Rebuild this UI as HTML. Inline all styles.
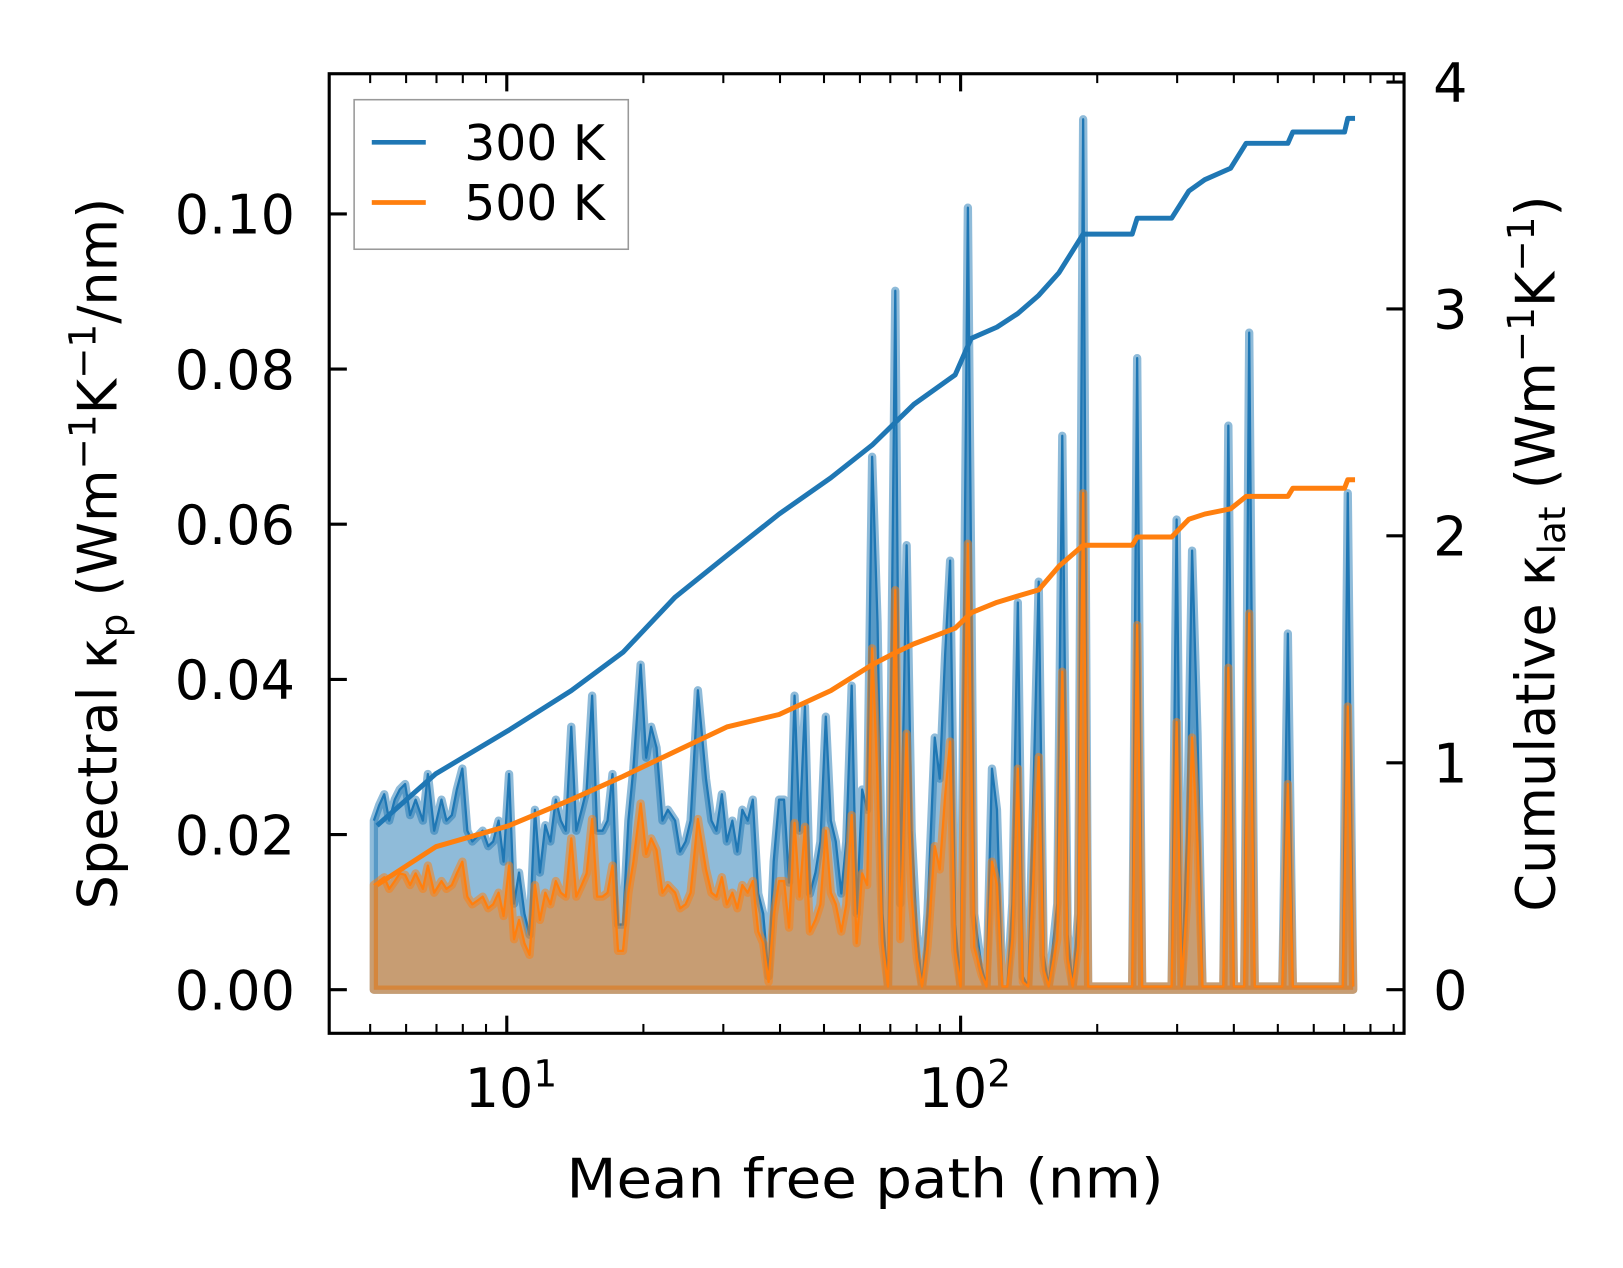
<!DOCTYPE html>
<html><head><meta charset="utf-8"><style>
html,body{margin:0;padding:0;background:#fff;overflow:hidden;width:1623px;height:1268px}
svg{display:block;font-family:"DejaVu Sans","Liberation Sans",sans-serif}
</style></head><body>
<svg id="chart" width="1623" height="1268" viewBox="0 0 1623 1268" xmlns="http://www.w3.org/2000/svg">
<rect width="1623" height="1268" fill="#fff"/>
<g transform="scale(1.0385)">
<g id="marks"></g>
<g id="axes"></g>
<text x="833" y="1153" text-anchor="middle" font-size="52" textLength="575" lengthAdjust="spacingAndGlyphs">Mean free path (nm)</text>
<text transform="translate(112,533) rotate(-90)" text-anchor="middle" font-size="52">Spectral κ<tspan dy="10" font-size="36">p</tspan><tspan dy="-10"> (Wm</tspan><tspan dy="-20" font-size="36">−1</tspan><tspan dy="20">K</tspan><tspan dy="-20" font-size="36">−1</tspan><tspan dy="20">/nm)</tspan></text>
<text transform="translate(1497,533) rotate(-90)" text-anchor="middle" font-size="52">Cumulative κ<tspan dy="10" font-size="36">lat</tspan><tspan dy="-10"> (Wm</tspan><tspan dy="-20" font-size="36">−1</tspan><tspan dy="20">K</tspan><tspan dy="-20" font-size="36">−1</tspan><tspan dy="20">)</tspan></text>
<g>
<rect x="341" y="96" width="264" height="144" fill="#fff" fill-opacity="0.8" stroke="#999" stroke-width="1.5"/>
<line x1="358" x2="410" y1="137" y2="137" stroke="#1f77b4" stroke-width="4.5"/>
<text x="447" y="154" font-size="47">300 K</text>
<line x1="358" x2="410" y1="195" y2="195" stroke="#ff7f0e" stroke-width="4.5"/>
<text x="447" y="212" font-size="47">500 K</text>
</g>
</g>
</svg>
<script>
// log10 of mean free path (nm) for spectral series
const mfpLog10 = [0.707,0.719,0.730,0.741,0.753,0.764,0.776,0.787,0.799,0.815,0.826,0.840,0.856,0.867,0.879,0.890,0.902,0.913,0.924,0.936,0.947,0.959,0.970,0.982,0.993,1.005,1.016,1.027,1.039,1.050,1.062,1.073,1.085,1.096,1.108,1.119,1.130,1.142,1.153,1.165,1.176,1.188,1.199,1.211,1.222,1.233,1.245,1.256,1.268,1.279,1.295,1.307,1.318,1.330,1.343,1.355,1.371,1.382,1.394,1.405,1.421,1.439,1.451,1.462,1.474,1.485,1.497,1.508,1.519,1.531,1.542,1.554,1.565,1.577,1.588,1.600,1.611,1.622,1.634,1.645,1.657,1.668,1.680,1.691,1.703,1.714,1.725,1.737,1.748,1.760,1.771,1.783,1.794,1.805,1.817,1.828,1.840,1.856,1.867,1.881,1.892,1.904,1.915,1.927,1.943,1.954,1.966,1.977,1.988,2.000,2.016,2.030,2.046,2.057,2.069,2.080,2.092,2.103,2.114,2.126,2.137,2.149,2.160,2.172,2.183,2.194,2.213,2.224,2.236,2.247,2.259,2.270,2.281,2.378,2.389,2.400,2.465,2.476,2.487,2.499,2.510,2.522,2.533,2.579,2.590,2.602,2.625,2.636,2.648,2.709,2.721,2.732,2.842,2.853,2.865];
const spec300 = [.0218,.0238,.0252,.0218,.0245,.0258,.0265,.0225,.0245,.0218,.0278,.0205,.0245,.0218,.0225,.0258,.0285,.0205,.0191,.0198,.0205,.0185,.0191,.0218,.0165,.0278,.0111,.0151,.0098,.0071,.0232,.0151,.0212,.0191,.0245,.0218,.0205,.0339,.0205,.0232,.0258,.0379,.0205,.0205,.0218,.0278,.0084,.0084,.0218,.0285,.0419,.0299,.0339,.0312,.0218,.0232,.0218,.0178,.0191,.0218,.0386,.0272,.0218,.0205,.0252,.0191,.0218,.0178,.0232,.0218,.0245,.0124,.0098,.0017,.0165,.0245,.0245,.0138,.0379,.0205,.0365,.0124,.0151,.0191,.0352,.0218,.0191,.0124,.0191,.0392,.0098,.0258,.0232,.0687,.0473,.0098,.0004,.0901,.0111,.0573,.0205,.0071,.0004,.0098,.0325,.0272,.0432,.0553,.0084,.0004,.1008,.0098,.0030,.0004,.0285,.0232,.0004,.0004,.0111,.0499,.0017,.0004,.0245,.0526,.0044,.0004,.0111,.0714,.0071,.0004,.0098,.1122,.0004,.0004,.0814,.0004,.0004,.0606,.0004,.0200,.0566,.0330,.0004,.0004,.0727,.0004,.0004,.0847,.0004,.0004,.0459,.0004,.0004,.0640,.0004];
const spec500 = [.0135,.0140,.0145,.0130,.0140,.0150,.0148,.0135,.0150,.0130,.0160,.0125,.0140,.0130,.0135,.0150,.0165,.0120,.0110,.0115,.0120,.0105,.0110,.0125,.0095,.0160,.0065,.0090,.0060,.0045,.0135,.0090,.0125,.0110,.0140,.0125,.0120,.0195,.0120,.0135,.0150,.0220,.0120,.0120,.0125,.0160,.0050,.0050,.0125,.0165,.0240,.0175,.0195,.0180,.0125,.0135,.0125,.0105,.0110,.0125,.0220,.0155,.0125,.0120,.0145,.0110,.0125,.0105,.0135,.0125,.0140,.0075,.0060,.0010,.0095,.0140,.0140,.0080,.0215,.0120,.0210,.0075,.0090,.0110,.0205,.0125,.0110,.0075,.0110,.0225,.0060,.0150,.0135,.0440,.0270,.0060,.0004,.0515,.0065,.0330,.0120,.0040,.0004,.0055,.0185,.0155,.0250,.0320,.0050,.0004,.0575,.0055,.0020,.0004,.0165,.0135,.0004,.0004,.0065,.0285,.0010,.0004,.0140,.0300,.0025,.0004,.0065,.0410,.0040,.0004,.0055,.0640,.0004,.0004,.0470,.0004,.0004,.0345,.0004,.0115,.0325,.0190,.0004,.0004,.0415,.0004,.0004,.0485,.0004,.0004,.0265,.0004,.0004,.0365,.0004];
// cumulative series
const cumLog10 = [0.714,0.844,1.005,1.142,1.256,1.371,1.485,1.600,1.714,1.805,1.851,1.897,1.988,2.023,2.080,2.126,2.172,2.217,2.270,2.378,2.389,2.465,2.503,2.538,2.595,2.629,2.721,2.732,2.846,2.853,2.869];
const cum300 = [.723,.952,1.144,1.318,1.487,1.73,1.913,2.096,2.256,2.40,2.49,2.58,2.71,2.87,2.92,2.98,3.06,3.16,3.33,3.33,3.40,3.40,3.52,3.57,3.62,3.73,3.73,3.78,3.78,3.84,3.84];
const cum500 = [.462,.63,.723,.838,.94,1.05,1.158,1.213,1.318,1.432,1.48,1.524,1.593,1.661,1.707,1.735,1.762,1.867,1.959,1.959,1.995,1.995,2.073,2.096,2.119,2.174,2.174,2.21,2.21,2.247,2.247];
const leftTicks = [0,0.02,0.04,0.06,0.08,0.10];
const leftTickLabels = ["0.00","0.02","0.04","0.06","0.08","0.10"];
const rightTicks = [0,1,2,3,4];
const xMajorExp = [1,2];

const NS="http://www.w3.org/2000/svg";
const L=317,R=1352,T=71,B=995;
const xS = e => 488 + (e-1)*437;
const yL = v => 953 - v*7470;
const yR = v => 953 - v*218.5;
const marks=document.getElementById('marks'), axes=document.getElementById('axes');
function mk(tag, attrs, parent){const el=document.createElementNS(NS,tag);for(const k in attrs)el.setAttribute(k,attrs[k]);parent.appendChild(el);return el;}

function area(vals, color, name){
  let pts=mfpLog10.map((e,i)=>xS(e).toFixed(1)+','+yL(vals[i]).toFixed(1));
  const x0=xS(mfpLog10[0]), x1=xS(mfpLog10[mfpLog10.length-1]);
  const d='M'+x0+','+yL(0)+' L'+pts.join(' L')+' L'+x1+','+yL(0)+' Z';
  const p=mk('path',{d:d,fill:color,'fill-opacity':0.5,stroke:color,'stroke-opacity':0.5,'stroke-width':8,'stroke-linejoin':'round'},marks);
  
  
  const l=mk('polyline',{points:pts.join(' '),fill:'none',stroke:color,'stroke-width':2.2,'stroke-linejoin':'round'},marks);
  
  
}
area(spec300,'#1f77b4','spectral-300k');
area(spec500,'#ff7f0e','spectral-500k');
function cum(vals,color,name){
  const pts=cumLog10.map((e,i)=>xS(e).toFixed(1)+','+yR(vals[i]).toFixed(1)).join(' ');
  const l=mk('polyline',{points:pts,fill:'none',stroke:color,'stroke-width':4.8,'stroke-linejoin':'round'},marks);
  
  
}
cum(cum300,'#1f77b4','cumulative-300k');
cum(cum500,'#ff7f0e','cumulative-500k');

const fr=mk('rect',{x:L,y:T,width:R-L,height:B-T,fill:'none',stroke:'#000','stroke-width':3},axes);


leftTicks.forEach((v,i)=>{
  mk('line',{x1:L,x2:L+17,y1:yL(v),y2:yL(v),stroke:'#000','stroke-width':3},axes);
  const t=mk('text',{x:284,y:yL(v)+19,'text-anchor':'end','font-size':52},axes);
  t.textContent=leftTickLabels[i];
  
  
});
rightTicks.forEach(v=>{
  mk('line',{x1:R-17,x2:R,y1:yR(v),y2:yR(v),stroke:'#000','stroke-width':3},axes);
  const t=mk('text',{x:1380,y:yR(v)+19,'font-size':52},axes);
  t.textContent=String(v);
  
  
});
for(let dec=0;dec<=2;dec++){
  for(let m=1;m<=9;m++){
    const e=dec+Math.log10(m), x=xS(e);
    if(x<L+5||x>R-5) continue;
    const len=m===1?17:9;
    mk('line',{x1:x,x2:x,y1:B,y2:B-len,stroke:'#000','stroke-width':m===1?3:2},axes);
    mk('line',{x1:x,x2:x,y1:T,y2:T+len,stroke:'#000','stroke-width':m===1?3:2},axes);
  }
}
xMajorExp.forEach(e=>{
  const t=mk('text',{x:xS(e)+4,y:1066,'text-anchor':'middle','font-size':52},axes);
  t.innerHTML='10<tspan dy="-20" font-size="36">'+e+'</tspan>';
  
  
});
</script>
</body></html>
